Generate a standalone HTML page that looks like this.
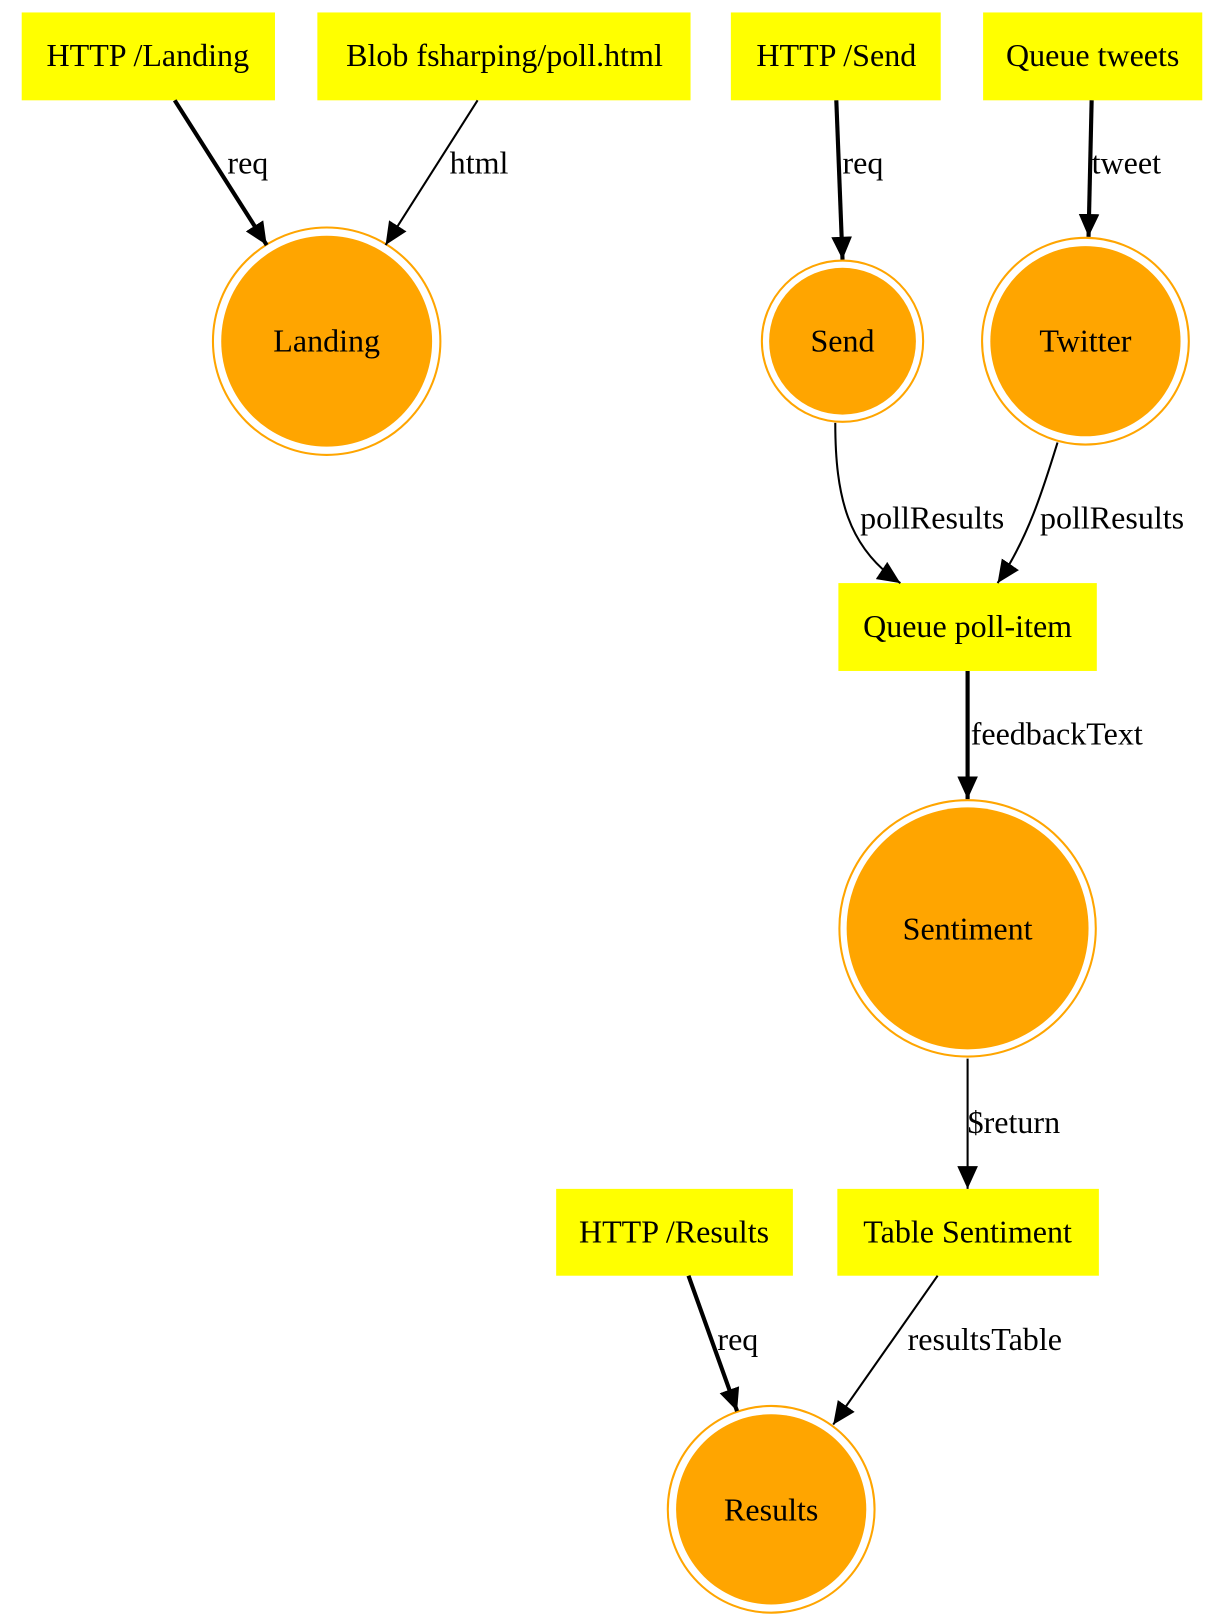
<!DOCTYPE html>
<html><head><style>html,body{margin:0;padding:0;background:#fff}svg{display:block}</style></head><body>
<svg width="1225" height="1620" viewBox="0 0 1185 1567" xmlns="http://www.w3.org/2000/svg" font-family="'Liberation Serif', serif" font-size="31">
<defs>
<marker id="a" markerUnits="userSpaceOnUse" markerWidth="24" markerHeight="20" refX="22" refY="10" orient="auto"><path d="M0,0 L22,10 L0,20 Z" fill="#000"/></marker>
</defs>
<rect width="1185" height="1567" fill="#fff"/>
<g fill="#ffff00">
<rect x="21" y="12" width="245" height="85"/>
<rect x="307" y="12" width="361" height="85"/>
<rect x="707" y="12" width="203" height="85"/>
<rect x="951" y="12" width="212" height="85"/>
<rect x="811" y="564" width="250" height="85"/>
<rect x="538" y="1150" width="229" height="84"/>
<rect x="810" y="1150" width="253" height="84"/>
</g>
<g fill="none" stroke="orange" stroke-width="2">
<circle cx="316" cy="330" r="110"/><circle cx="815" cy="330" r="78"/><circle cx="1050" cy="330" r="100"/><circle cx="936" cy="898" r="124"/><circle cx="746" cy="1460" r="100"/>
</g>
<g fill="orange">
<circle cx="316" cy="330" r="102"/><circle cx="815" cy="330" r="71"/><circle cx="1050" cy="330" r="92"/><circle cx="936" cy="898" r="117"/><circle cx="746" cy="1460" r="92"/>
</g>
<g stroke="#000" fill="none" marker-end="url(#a)">
<path d="M169,97 L258,237" stroke-width="4"/>
<path d="M462,97 L373,237" stroke-width="2"/>
<path d="M809,97 L815,251" stroke-width="4"/>
<path d="M1056,97 L1053,229" stroke-width="4"/>
<path d="M808,409 C808,480 820,530 871,564" stroke-width="2"/>
<path d="M1023,428 C1010,470 995,520 965,564" stroke-width="2"/>
<path d="M936,649 L936,773" stroke-width="4"/>
<path d="M936,1024 L936,1150" stroke-width="2"/>
<path d="M666,1234 L713,1365" stroke-width="4"/>
<path d="M907,1234 L806,1378" stroke-width="2"/>
</g>
<g text-anchor="middle" fill="#000">
<text x="143" y="64">HTTP /Landing</text>
<text x="488" y="64">Blob fsharping/poll.html</text>
<text x="809" y="64">HTTP /Send</text>
<text x="1057" y="64">Queue tweets</text>
<text x="936" y="616">Queue poll-item</text>
<text x="652" y="1202">HTTP /Results</text>
<text x="936" y="1202">Table Sentiment</text>
<text x="316" y="340">Landing</text>
<text x="815" y="340">Send</text>
<text x="1050" y="340">Twitter</text>
<text x="936" y="909">Sentiment</text>
<text x="746" y="1471">Results</text>
</g>
<g fill="#000">
<text x="220" y="168">req</text>
<text x="435" y="168">html</text>
<text x="815" y="168">req</text>
<text x="1056" y="168">tweet</text>
<text x="832" y="511">pollResults</text>
<text x="1006" y="511">pollResults</text>
<text x="939" y="720">feedbackText</text>
<text x="936" y="1096">$return</text>
<text x="694" y="1306">req</text>
<text x="878" y="1306">resultsTable</text>
</g>
</svg>
</body></html>
